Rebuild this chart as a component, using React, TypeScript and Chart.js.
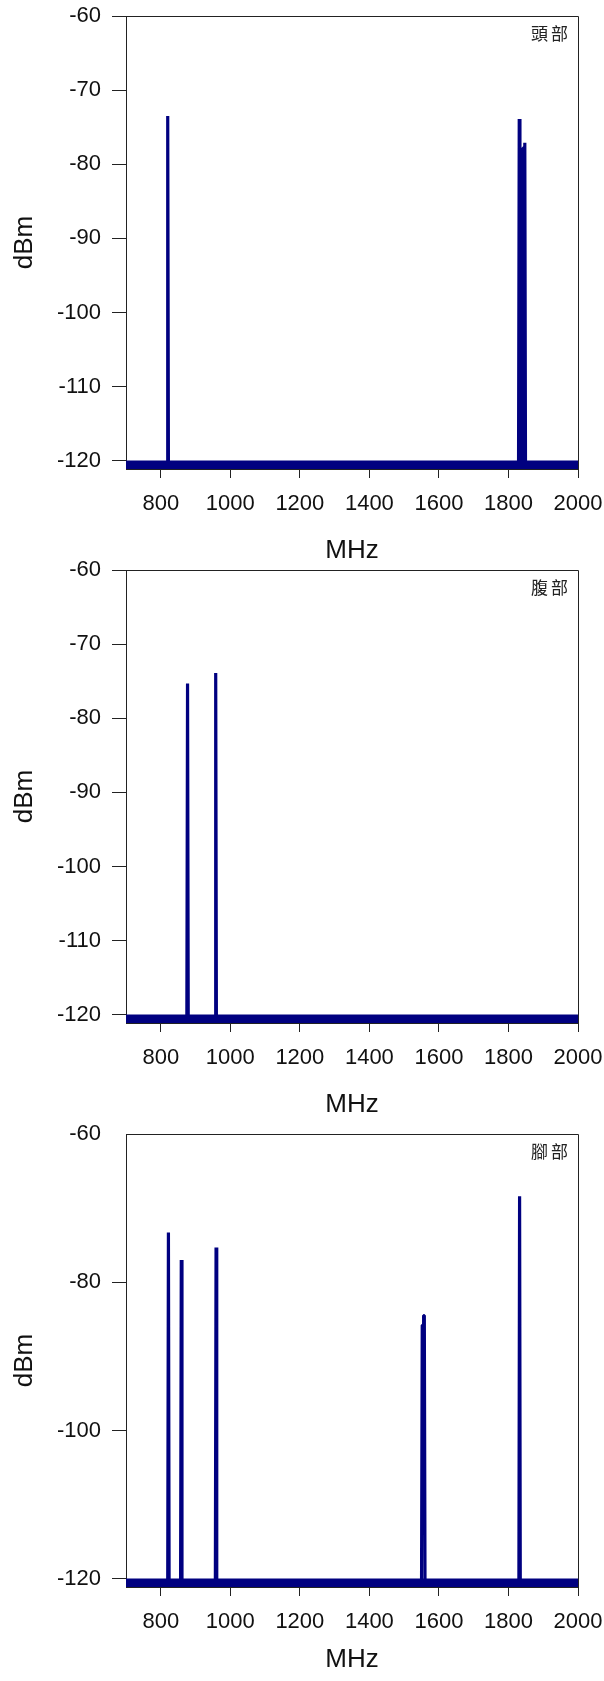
import React, { useEffect, useRef } from "react";
import { Chart, registerables } from "chart.js";

Chart.register(...registerables);

// ---------- data ----------
const X_MIN = 700;
const X_MAX = 2000;
const Y_MAX = -60;
const Y_MIN = -121.12;

const xTicks = [800, 1000, 1200, 1400, 1600, 1800, 2000];
const yTicksHead = [-60, -70, -80, -90, -100, -110, -120];
const yTicksAbdomen = [-60, -70, -80, -90, -100, -110, -120];
const yTicksFoot = [-60, -80, -100, -120];

const xTitle = "MHz";
const yTitle = "dBm";
const panelLabels = ["頭部", "腹部", "腳部"];

// noise floor (thick band just under -120 dBm)
const floorFreq = [700, 2000];
const floorDbm = [-120.56, -120.56];

// 頭部 (head)
const headFreq = [700, 818, 820, 822, 1829, 1831, 1833, 1840, 1842, 1845, 1847, 1849, 2000];
const headDbm = [-120.56, -120.56, -73.5, -120.56, -120.56, -73.9, -120.56, -120.56, -77.8, -77.8, -77.1, -120.56, -120.56];

// 腹部 (abdomen)
const abdomenFreq = [700, 875, 877, 879, 956, 958, 960, 2000];
const abdomenDbm = [-120.56, -120.56, -75.3, -120.56, -120.56, -73.9, -120.56, -120.56];

// 腳部 (foot)
const footFreq = [700, 820, 822, 824, 857, 859, 861, 957, 959, 961, 1550, 1552, 1555, 1556, 1558, 1560, 1830, 1832, 1834, 2000];
const footDbm = [-120.56, -120.56, -73.3, -120.56, -120.56, -77.0, -120.56, -120.56, -75.3, -120.56, -120.56, -85.8, -85.8, -84.5, -84.5, -120.56, -120.56, -68.4, -120.56, -120.56];

// ---------- styling / layout ----------
const FONT = '"Liberation Sans", Arial, sans-serif';
const LINE = "#000080";
const AXIS = "#222";
const TEXT = "#111";

const boxPlugin = {
  id: "panelBox",
  afterDraw(chart: any, _args: any, opts: any) {
    const { ctx, chartArea: a } = chart;
    ctx.save();
    ctx.strokeStyle = AXIS;
    ctx.lineWidth = 1;
    const top = Math.round(a.top) + 0.5;
    const right = Math.round(a.right) + 0.5;
    ctx.beginPath();
    ctx.moveTo(Math.round(a.left) + 0.5, top);
    ctx.lineTo(right, top);
    ctx.lineTo(right, Math.round(a.bottom) + 0.5);
    ctx.stroke();
    if (opts && opts.label) {
      ctx.font = '17px "Noto Sans CJK TC", sans-serif';
      (ctx as any).letterSpacing = "3px";
      ctx.fillStyle = "#222";
      ctx.textAlign = "right";
      ctx.textBaseline = "middle";
      ctx.fillText(opts.label, a.right - 7, a.top + 18);
    }
    ctx.restore();
  },
};

const zeroPadding = (s: any) => {
  s.paddingTop = 0;
  s.paddingBottom = 0;
  s.paddingLeft = 0;
  s.paddingRight = 0;
};

type PanelProps = {
  top: number;
  height: number;
  padBottom: number;
  xAxisHeight: number;
  freq: number[];
  dbm: number[];
  yTicks: number[];
  label: string;
  hiddenTickMarks: number[];
};

function Panel(p: PanelProps) {
  const ref = useRef<HTMLCanvasElement | null>(null);
  useEffect(() => {
    if (!ref.current) return;
    const chart = new Chart(ref.current, {
      type: "line",
      data: {
        datasets: [
          {
            data: floorFreq.map((x, i) => ({ x, y: floorDbm[i] })),
            borderColor: LINE,
            borderWidth: 8.5,
            pointRadius: 0,
            borderCapStyle: "butt",
          },
          {
            data: p.freq.map((x, i) => ({ x, y: p.dbm[i] })),
            borderColor: LINE,
            borderWidth: 3.2,
            pointRadius: 0,
            borderJoinStyle: "bevel",
          },
        ],
      },
      options: {
        animation: false,
        responsive: false,
        maintainAspectRatio: false,
        events: [],
        layout: { padding: { top: 16, right: 26, bottom: p.padBottom, left: 0 } },
        plugins: {
          legend: { display: false },
          tooltip: { enabled: false },
          panelBox: { label: p.label },
        } as any,
        scales: {
          x: {
            type: "linear",
            position: "bottom",
            min: X_MIN,
            max: X_MAX,
            afterBuildTicks: (s: any) => {
              s.ticks = xTicks.map((v) => ({ value: v }));
            },
            afterFit: (s: any) => {
              s.height = p.xAxisHeight;
              zeroPadding(s);
            },
            grid: {
              display: true,
              drawOnChartArea: false,
              drawTicks: true,
              tickLength: 9,
              tickColor: AXIS,
              lineWidth: 1,
            },
            border: { display: true, color: AXIS, width: 1 },
            ticks: {
              padding: 13,
              color: TEXT,
              font: { family: FONT, size: 22 },
              maxRotation: 0,
              autoSkip: false,
              callback: (v: any) => String(v),
            },
            title: {
              display: true,
              text: xTitle,
              color: TEXT,
              font: { family: FONT, size: 26 },
              padding: { top: 0, bottom: 0 },
            },
          },
          y: {
            type: "linear",
            min: Y_MIN,
            max: Y_MAX,
            afterBuildTicks: (s: any) => {
              s.ticks = p.yTicks.map((v) => ({ value: v }));
            },
            afterFit: (s: any) => {
              s.width = 126;
              zeroPadding(s);
            },
            grid: {
              display: true,
              drawOnChartArea: false,
              drawTicks: true,
              tickLength: 14,
              tickColor: (c: any) =>
                c.tick && p.hiddenTickMarks.includes(c.tick.value) ? "rgba(0,0,0,0)" : AXIS,
              lineWidth: 1,
            },
            border: { display: true, color: AXIS, width: 1 },
            ticks: {
              padding: 11,
              color: TEXT,
              font: { family: FONT, size: 22 },
              autoSkip: false,
              callback: (v: any) => String(v),
            },
            title: {
              display: true,
              text: yTitle,
              color: TEXT,
              font: { family: FONT, size: 26 },
              padding: { top: 9.4, bottom: 0 },
            },
          },
        },
      } as any,
      plugins: [boxPlugin],
    });
    return () => chart.destroy();
  }, []);
  return (
    <canvas
      ref={ref}
      width={604}
      height={p.height}
      style={{ position: "absolute", left: 0, top: p.top, width: 604, height: p.height, display: "block" }}
    />
  );
}

export default function App() {
  return (
    <div
      style={{
        position: "absolute",
        left: 0,
        top: 0,
        width: 604,
        height: 1681,
        overflow: "hidden",
        background: "#fff",
      }}
    >
      <Panel top={0} height={566} padBottom={0} xAxisHeight={97} freq={headFreq} dbm={headDbm} yTicks={yTicksHead} label={panelLabels[0]} hiddenTickMarks={[]} />
      <Panel top={554} height={566} padBottom={0} xAxisHeight={97} freq={abdomenFreq} dbm={abdomenDbm} yTicks={yTicksAbdomen} label={panelLabels[1]} hiddenTickMarks={[]} />
      <Panel top={1118} height={563} padBottom={6} xAxisHeight={88} freq={footFreq} dbm={footDbm} yTicks={yTicksFoot} label={panelLabels[2]} hiddenTickMarks={[-60]} />
    </div>
  );
}
